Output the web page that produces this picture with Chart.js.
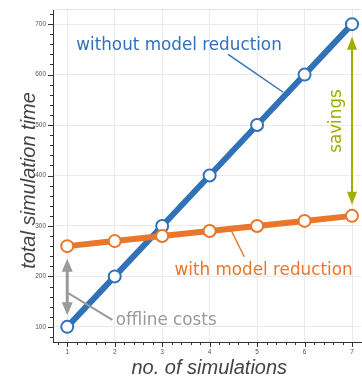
<!DOCTYPE html>
<html><head><meta charset="utf-8">
<script src="https://cdn.jsdelivr.net/npm/chart.js@4/dist/chart.umd.min.js"></script>
<style>html,body{margin:0;padding:0;background:#fff}</style>
</head><body>
<canvas id="c" width="362" height="380" style="width:362px;height:380px;display:block"></canvas>
<script>
// ---- data ----
const simulations = [1, 2, 3, 4, 5, 6, 7];
const withoutReduction = [100, 200, 300, 400, 500, 600, 700];
const withReduction = [260, 270, 280, 290, 300, 310, 320];
const xMajorTicks = [1, 2, 3, 4, 5, 6, 7];
const yMajorTicks = [100, 200, 300, 400, 500, 600, 700];
const xTickLabels = ['1', '2', '3', '4', '5', '6', '7'];
const yTickLabels = ['100', '200', '300', '400', '500', '600', '700'];
const xMinorStep = 0.2;
const yMinorStep = 20;
const xTitle = 'no. of simulations';
const yTitle = 'total simulation time';

// ---- annotations (data coordinates) ----
const blueLabel = { text: 'without model reduction', x: 1.19, y: 648 };
const blueLeader = [[4.39, 640], [5.55, 565]];
const orangeLabel = { text: 'with model reduction', x: 3.26, y: 203 };
const orangeLeader = [[4.45, 292], [4.73, 239]];
const grayLabel = { text: 'offline costs', x: 2.02, y: 104 };
const grayLeader = [[1.02, 167], [1.95, 114]];
const grayArrow = [[1, 235], [1, 123]];
const savingsLabel = { text: 'savings', x: 6.77, y: 508 };
const savingsArrow = [[7, 675], [7, 342]];

const BLUE = '#3171b8', ORANGE = '#e8772b', GRAY = '#9a9a9a', OLIVE = '#a2ad00';
const ANN_FONT = '16.8px "DejaVu Sans"';

function isMultiple(v, s) { const r = v / s; return Math.abs(r - Math.round(r)) < 1e-6; }
function buildTicks(min, max, step) {
  const t = [];
  for (let i = Math.ceil(min / step - 1e-9); i * step <= max + 1e-9; i++) t.push({ value: +(i * step).toFixed(4) });
  return t;
}

function arrow(ctx, x1, y1, x2, y2, color, lw, hl, hw) {
  ctx.strokeStyle = color; ctx.fillStyle = color; ctx.lineWidth = lw;
  const dx = x2 - x1, dy = y2 - y1, L = Math.hypot(dx, dy), ux = dx / L, uy = dy / L;
  ctx.beginPath();
  ctx.moveTo(x1 + ux * hl * 0.8, y1 + uy * hl * 0.8);
  ctx.lineTo(x2 - ux * hl * 0.8, y2 - uy * hl * 0.8);
  ctx.stroke();
  const head = (tx, ty, dxn, dyn) => {
    ctx.beginPath();
    ctx.moveTo(tx, ty);
    ctx.lineTo(tx - dxn * hl - dyn * hw, ty - dyn * hl + dxn * hw);
    ctx.lineTo(tx - dxn * hl + dyn * hw, ty - dyn * hl - dxn * hw);
    ctx.closePath(); ctx.fill();
  };
  head(x2, y2, ux, uy);
  head(x1, y1, -ux, -uy);
}

const annotPlugin = {
  id: 'annot',
  beforeDatasetsDraw(chart) {
    const { ctx, chartArea: a } = chart;
    ctx.save();
    ctx.strokeStyle = '#e6e6e6'; ctx.lineWidth = 1;
    ctx.beginPath(); ctx.moveTo(a.left, a.top + 0.5); ctx.lineTo(a.right, a.top + 0.5); ctx.stroke();
    ctx.restore();
  },
  afterDraw(chart) {
    const { ctx, chartArea: a, scales: { x, y } } = chart;
    const X = v => x.getPixelForValue(v), Y = v => y.getPixelForValue(v);
    ctx.save();
    // axis ticks (major & minor)
    ctx.strokeStyle = '#333'; ctx.lineWidth = 1;
    x.ticks.forEach(t => {
      const px = Math.round(X(t.value)) + 0.5, len = isMultiple(t.value, 1) ? 5 : 3;
      ctx.beginPath(); ctx.moveTo(px, a.bottom); ctx.lineTo(px, a.bottom + len); ctx.stroke();
    });
    y.ticks.forEach(t => {
      const py = Math.round(Y(t.value)) + 0.5, len = isMultiple(t.value, 100) ? 5 : 3;
      ctx.beginPath(); ctx.moveTo(a.left, py); ctx.lineTo(a.left - len, py); ctx.stroke();
    });
    // axis titles
    ctx.fillStyle = '#444';
    ctx.font = 'italic 20px "Liberation Sans"';
    ctx.textAlign = 'center'; ctx.textBaseline = 'alphabetic';
    ctx.fillText(xTitle, (a.left + a.right) / 2 + 2, 374);
    ctx.save();
    ctx.translate(35, (a.top + a.bottom) / 2 + 5);
    ctx.rotate(-Math.PI / 2);
    ctx.fillText(yTitle, 0, 0);
    ctx.restore();

    // leader lines
    const leader = (pts, color, lw) => {
      ctx.strokeStyle = color; ctx.lineWidth = lw;
      ctx.beginPath(); ctx.moveTo(X(pts[0][0]), Y(pts[0][1])); ctx.lineTo(X(pts[1][0]), Y(pts[1][1])); ctx.stroke();
    };
    leader(blueLeader, BLUE, 1.5);
    leader(orangeLeader, ORANGE, 1.5);
    leader(grayLeader, GRAY, 2);
    // arrows
    arrow(ctx, X(grayArrow[0][0]), Y(grayArrow[0][1]), X(grayArrow[1][0]), Y(grayArrow[1][1]), GRAY, 3, 13, 5.5);
    arrow(ctx, X(savingsArrow[0][0]), Y(savingsArrow[0][1]), X(savingsArrow[1][0]), Y(savingsArrow[1][1]), OLIVE, 2, 13, 5);
    // labels
    ctx.font = ANN_FONT; ctx.textAlign = 'left'; ctx.textBaseline = 'alphabetic';
    ctx.fillStyle = BLUE; ctx.fillText(blueLabel.text, X(blueLabel.x), Y(blueLabel.y));
    ctx.fillStyle = ORANGE; ctx.fillText(orangeLabel.text, X(orangeLabel.x), Y(orangeLabel.y));
    ctx.fillStyle = GRAY; ctx.fillText(grayLabel.text, X(grayLabel.x), Y(grayLabel.y));
    ctx.save();
    ctx.translate(X(savingsLabel.x), Y(savingsLabel.y));
    ctx.rotate(-Math.PI / 2);
    ctx.textAlign = 'center';
    ctx.fillStyle = OLIVE; ctx.fillText(savingsLabel.text, 0, 0);
    ctx.restore();
    ctx.restore();
  }
};

new Chart(document.getElementById('c'), {
  type: 'line',
  data: {
    datasets: [
      {
        label: 'with model reduction',
        data: simulations.map((s, i) => ({ x: s, y: withReduction[i] })),
        borderColor: ORANGE, borderWidth: 6, backgroundColor: '#fff',
        pointRadius: 6, pointBorderWidth: 2, pointBackgroundColor: '#fff', pointBorderColor: ORANGE,
        tension: 0
      },
      {
        label: 'without model reduction',
        data: simulations.map((s, i) => ({ x: s, y: withoutReduction[i] })),
        borderColor: BLUE, borderWidth: 6, backgroundColor: '#fff',
        pointRadius: 6, pointBorderWidth: 2, pointBackgroundColor: '#fff', pointBorderColor: BLUE,
        tension: 0
      }
    ]
  },
  options: {
    responsive: false, animation: false, devicePixelRatio: 1,
    layout: { autoPadding: false, padding: { top: 9, right: 0.5, left: 0, bottom: 0 } },
    plugins: { legend: { display: false }, tooltip: { enabled: false } },
    scales: {
      x: {
        type: 'linear', position: 'bottom', min: 0.7, max: 7.2,
        afterBuildTicks: s => { s.ticks = buildTicks(0.7, 7.2, xMinorStep); },
        afterFit: s => { s.height = 38; s.paddingLeft = 0; s.paddingRight = 0; s.paddingTop = 0; s.paddingBottom = 0; },
        ticks: {
          autoSkip: false, maxRotation: 0, padding: 6, color: '#555',
          font: { family: 'Liberation Sans', size: 6.5 },
          callback: v => { const i = xMajorTicks.findIndex(m => Math.abs(m - v) < 1e-6); return i >= 0 ? xTickLabels[i] : ''; }
        },
        grid: { drawTicks: false, lineWidth: 1, color: c => (c.tick && isMultiple(c.tick.value, 1)) ? '#ebebeb' : 'rgba(0,0,0,0)' },
        border: { color: '#333', width: 1 }
      },
      y: {
        type: 'linear', position: 'left', min: 70, max: 730,
        afterBuildTicks: s => { s.ticks = buildTicks(80, 720, yMinorStep); },
        afterFit: s => { s.width = 53; s.paddingLeft = 0; s.paddingRight = 0; s.paddingTop = 0; s.paddingBottom = 0; },
        ticks: {
          autoSkip: false, padding: 7, color: '#555',
          font: { family: 'Liberation Sans', size: 6.5 },
          callback: v => { const i = yMajorTicks.findIndex(m => Math.abs(m - v) < 1e-6); return i >= 0 ? yTickLabels[i] : ''; }
        },
        grid: { drawTicks: false, lineWidth: 1, color: c => (c.tick && isMultiple(c.tick.value, 100)) ? '#ebebeb' : 'rgba(0,0,0,0)' },
        border: { color: '#333', width: 1 }
      }
    }
  },
  plugins: [annotPlugin]
});
</script>
</body></html>
